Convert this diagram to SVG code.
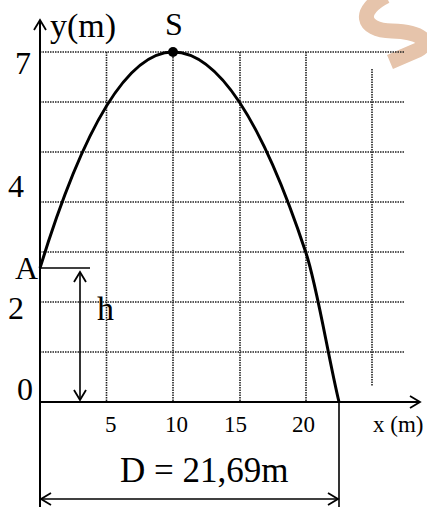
<svg xmlns="http://www.w3.org/2000/svg" width="427" height="507" viewBox="0 0 427 507">
<style>
.grid{stroke:#222;stroke-width:1.6;stroke-dasharray:1.5 1;fill:none}
.ax{stroke:#000;stroke-width:2;fill:none}
.thin{stroke:#000;stroke-width:1.6;fill:none}
.t{font-family:"Liberation Serif","Times New Roman",serif;fill:#000}
</style>
<defs>
<marker id="oa" markerWidth="14" markerHeight="14" refX="12" refY="7" orient="auto-start-reverse" markerUnits="userSpaceOnUse">
<path d="M2,1 L12,7 L2,13" fill="none" stroke="#000" stroke-width="1.8"/>
</marker>
</defs>
<rect width="427" height="507" fill="#fff"/>
<path d="M386,-4 C358,10 360,30 392,31 C422,32 432,42 418,50 L390,62" fill="none" stroke="#E6C4AB" stroke-width="15"/>
<g id="grid">
<path class="grid" d="M40,52H405M40,102H405M40,152H405M40,202H405M40,252H405M40,302H405M40,352H405"/>
<path class="grid" d="M106.5,52V402M173,52V402M240,52V402M306,52V402M372,69V386"/>
</g>
<g id="connectors">
<line class="ax" x1="40" y1="507" x2="40" y2="20" marker-end="url(#oa)"/>
<line class="ax" x1="40" y1="402" x2="420" y2="402" marker-end="url(#oa)"/>
<line class="thin" x1="339" y1="402" x2="339" y2="507"/>
<line class="thin" x1="40" y1="268" x2="90" y2="268"/>
<line class="thin" x1="80" y1="272" x2="80" y2="400" marker-start="url(#oa)" marker-end="url(#oa)"/>
<line class="thin" x1="41" y1="499" x2="338" y2="499" marker-start="url(#oa)" marker-end="url(#oa)"/>
</g>
<g id="curve">
<path d="M40,268 Q106.5,52 173,52 Q239.5,52 306,253 C317,286 328,356 339,402" fill="none" stroke="#000" stroke-width="3"/>
<circle cx="173" cy="52" r="5" fill="#000"/>
</g>
<g id="labels">
<text class="t" x="50" y="37" font-size="34">y(m)</text>
<text class="t" x="165" y="35" font-size="32">S</text>
<text class="t" x="15" y="74" font-size="32">7</text>
<text class="t" x="8" y="197" font-size="32">4</text>
<text class="t" x="8" y="319" font-size="32">2</text>
<text class="t" x="17" y="400" font-size="32">0</text>
<text class="t" x="15" y="279" font-size="32">A</text>
<text class="t" x="97" y="320" font-size="34">h</text>
<text class="t" x="105" y="432" font-size="23">5</text>
<text class="t" x="165" y="432" font-size="23">10</text>
<text class="t" x="224" y="432" font-size="23">15</text>
<text class="t" x="292" y="432" font-size="23">20</text>
<text class="t" x="373" y="432" font-size="23">x (m)</text>
<text class="t" x="120" y="482" font-size="35">D = 21,69m</text>
</g>
</svg>
